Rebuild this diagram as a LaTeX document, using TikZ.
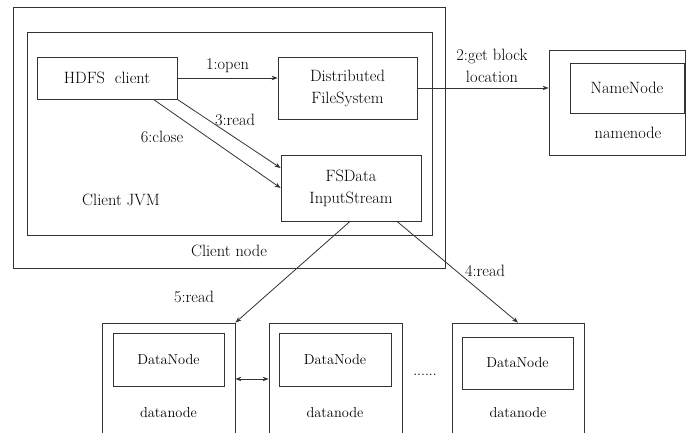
\documentclass[tikz,border=0pt]{standalone}
\usetikzlibrary{arrows.meta}
\begin{document}
\begin{tikzpicture}[x=1pt,y=-1pt,
  line width=0.8pt,
  box/.style={draw=black!80, minimum width=#1, inner sep=0pt, anchor=center},
  txt/.style={font=\fontsize{16.4}{22}\selectfont, text=black, align=center, inner sep=0pt},
  dtxt/.style={font=\fontsize{14.4}{19}\selectfont, text=black, inner sep=0pt},
  arr/.style={draw=black!80, -{Stealth[length=6pt,width=4.5pt]}},
  darr/.style={draw=black!80, {Stealth[length=6pt,width=4.5pt]}-{Stealth[length=6pt,width=4.5pt]}}]
\clip (0,0) rectangle (686,432);
\fill[white] (0,0) rectangle (686,432);

% client side
\node[box=432pt, minimum height=261pt] (clientnode) at (229,137.5) {};
\node[box=405pt, minimum height=203pt] (jvm) at (229.5,133.5) {};
\node[box=140pt, minimum height=42pt, txt] (hdfs) at (107,78) {HDFS\ \ client};
\node[box=139pt, minimum height=62pt, txt] (dfs) at (347.5,88) {Distributed\\FileSystem};
\node[box=140pt, minimum height=66pt, txt] (fsd) at (351,188) {FSData\\InputStream};
\node[txt] (jvmlabel) at (121,200) {Client JVM};
\node[txt] (cnlabel) at (229,251) {Client node};

% name node
\node[box=136pt, minimum height=105pt] (nnouter) at (617,102.5) {};
\node[box=114pt, minimum height=50pt, txt] (nninner) at (627,88) {NameNode};
\node[txt] (nnlabel) at (628,133) {namenode};

% data nodes
\node[box=133pt, minimum height=127pt] (dn1) at (168.5,386.5) {};
\node[box=111pt, minimum height=53pt, dtxt, draw=black!80] (dn1in) at (168.5,359.5) {DataNode};
\node[dtxt] (dn1label) at (168.5,413) {datanode};

\node[box=133pt, minimum height=127pt] (dn2) at (335.5,386.5) {};
\node[box=112pt, minimum height=53pt, dtxt, draw=black!80] (dn2in) at (335,359.5) {DataNode};
\node[dtxt] (dn2label) at (335,413) {datanode};

\node[box=132pt, minimum height=127pt] (dn3) at (518,386.5) {};
\node[box=111pt, minimum height=52pt, dtxt, draw=black!80] (dn3in) at (517.5,363) {DataNode};
\node[dtxt] (dn3label) at (518,413) {datanode};

\node[dtxt] (dots) at (425,375) {......};

% connectors
\draw[arr] (hdfs.east) -- (hdfs.east -| dfs.west)
  node[txt, midway, above=5pt] (l1) {1:open};
\draw[arr] (dfs.east) -- (dfs.east -| nnouter.west);
\node[txt] (l2) at (492,66) {2:get block\\location};
\draw[arr] (hdfs.south east) -- ([yshift=20pt]fsd.west);
\node[txt] (l3) at (235,120) {3:read};
\draw[arr] ([xshift=-24pt]hdfs.south east) -- (fsd.west);
\node[txt] (l6) at (162,137) {6:close};
\draw[arr] ([xshift=-1pt]fsd.south) -- (dn1.north east);
\node[txt] (l5) at (194,297) {5:read};
\draw[arr] ([xshift=46pt]fsd.south) -- (dn3.north);
\node[txt] (l4) at (485,271) {4:read};
\draw[darr] ([yshift=7.5pt]dn1.east) -- ([yshift=7.5pt]dn2.west);
\end{tikzpicture}
\end{document}
